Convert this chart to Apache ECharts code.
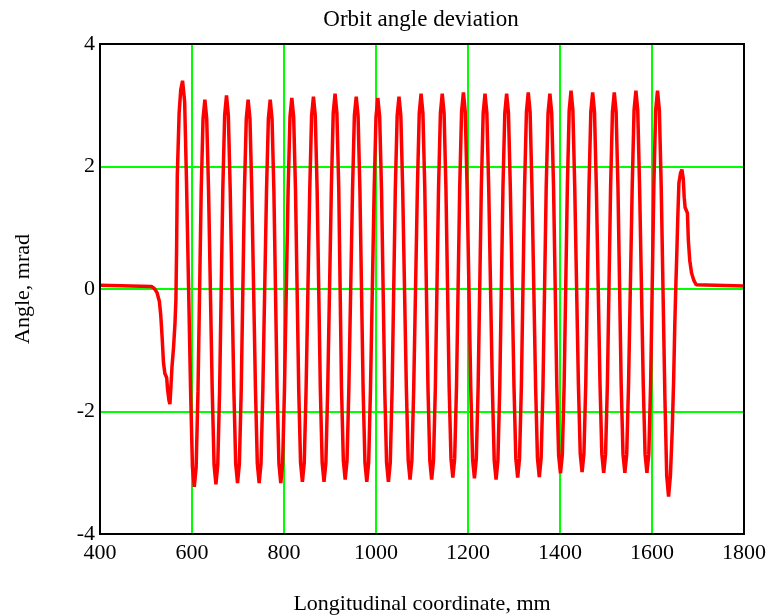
<!DOCTYPE html>
<html>
<head>
<meta charset="utf-8">
<title>Orbit angle deviation</title>
<script src="https://cdn.jsdelivr.net/npm/echarts@6/dist/echarts.min.js"></script>
<style>
  html, body { margin: 0; padding: 0; background: #fff; }
  #chart { width: 773px; height: 616px; }
</style>
</head>
<body>
<div id="chart"></div>
<script>
// Orbit angle (mrad) versus longitudinal coordinate (mm), as [coordinate, angle] pairs.

// Field-free drift and the entrance end of the magnet, up to the first full peak.
const entrySection = [
  [400, 0.06], [403, 0.04], [512, 0.04], [518, 0.01], [524, -0.06], [529, -0.20],
  [532, -0.42], [535, -0.78], [538, -1.20], [541, -1.38], [545, -1.45], [547, -1.65],
  [550, -1.82], [552, -1.88], [554, -1.62], [556.5, -1.27], [560, -0.94], [563, -0.56],
  [565, -0.18], [566.5, 0.64], [568, 1.84], [572, 2.87], [575.5, 3.25], [579.5, 3.40],
  [584, 3.06], [588, 1.77]
];

// Periodic part: one row per half period (a trough or a peak).
const periodicSection = [
  [597, -1.68], [601, -2.91], [605, -3.23], [609, -2.91], [613, -1.68],
  [620, 1.61], [624, 2.78], [628, 3.09], [632, 2.78], [636, 1.61],
  [644, -1.66], [648, -2.87], [652, -3.19], [656, -2.87], [660, -1.66],
  [667, 1.64], [671, 2.84], [675, 3.16], [679, 2.84], [683, 1.64],
  [691, -1.65], [695, -2.85], [699, -3.17], [703, -2.85], [707, -1.65],
  [714, 1.61], [718, 2.78], [722, 3.09], [726, 2.78], [730, 1.61],
  [738, -1.65], [742, -2.85], [746, -3.17], [750, -2.85], [754, -1.65],
  [762, 1.61], [766, 2.78], [770, 3.09], [774, 2.78], [778, 1.61],
  [785, -1.65], [789, -2.85], [793, -3.17], [797, -2.85], [801, -1.65],
  [809, 1.62], [813, 2.81], [817, 3.12], [821, 2.81], [825, 1.62],
  [832, -1.64], [836, -2.84], [840, -3.15], [844, -2.84], [848, -1.64],
  [856, 1.63], [860, 2.83], [864, 3.14], [868, 2.83], [872, 1.63],
  [879, -1.64], [883, -2.84], [887, -3.15], [891, -2.84], [895, -1.64],
  [903, 1.66], [907, 2.87], [911, 3.19], [915, 2.87], [919, 1.66],
  [925, -1.62], [929, -2.80], [933, -3.11], [937, -2.80], [941, -1.62],
  [949, 1.63], [953, 2.83], [957, 3.14], [961, 2.83], [965, 1.63],
  [972, -1.64], [976, -2.84], [980, -3.15], [984, -2.84], [988, -1.64],
  [996, 1.62], [1000, 2.81], [1004, 3.12], [1008, 2.81], [1012, 1.62],
  [1019, -1.64], [1023, -2.84], [1027, -3.15], [1031, -2.84], [1035, -1.64],
  [1042, 1.63], [1046, 2.83], [1050, 3.14], [1054, 2.83], [1058, 1.63],
  [1066, -1.62], [1070, -2.80], [1074, -3.11], [1078, -2.80], [1082, -1.62],
  [1090, 1.66], [1094, 2.87], [1098, 3.19], [1102, 2.87], [1106, 1.66],
  [1113, -1.62], [1117, -2.80], [1121, -3.11], [1125, -2.80], [1129, -1.62],
  [1136, 1.66], [1140, 2.87], [1144, 3.19], [1148, 2.87], [1152, 1.66],
  [1159, -1.60], [1163, -2.77], [1167, -3.08], [1171, -2.77], [1175, -1.60],
  [1182, 1.67], [1186, 2.89], [1190, 3.21], [1194, 2.89], [1198, 1.67],
  [1206, -1.61], [1210, -2.78], [1214, -3.09], [1218, -2.78], [1222, -1.61],
  [1229, 1.66], [1233, 2.87], [1237, 3.19], [1241, 2.87], [1245, 1.66],
  [1253, -1.62], [1257, -2.80], [1261, -3.11], [1265, -2.80], [1269, -1.62],
  [1276, 1.66], [1280, 2.87], [1284, 3.19], [1288, 2.87], [1292, 1.66],
  [1300, -1.60], [1304, -2.77], [1308, -3.08], [1312, -2.77], [1316, -1.60],
  [1323, 1.67], [1327, 2.89], [1331, 3.21], [1335, 2.89], [1339, 1.67],
  [1347, -1.60], [1351, -2.76], [1355, -3.07], [1359, -2.76], [1363, -1.60],
  [1370, 1.66], [1374, 2.87], [1378, 3.19], [1382, 2.87], [1386, 1.66],
  [1393, -1.57], [1397, -2.71], [1401, -3.01], [1405, -2.71], [1409, -1.57],
  [1416, 1.68], [1420, 2.92], [1424, 3.24], [1428, 2.92], [1432, 1.68],
  [1440, -1.55], [1444, -2.69], [1448, -2.99], [1452, -2.69], [1456, -1.55],
  [1463, 1.67], [1467, 2.89], [1471, 3.21], [1475, 2.89], [1479, 1.67],
  [1487, -1.56], [1491, -2.70], [1495, -3.00], [1499, -2.70], [1503, -1.56],
  [1510, 1.67], [1514, 2.89], [1518, 3.21], [1522, 2.89], [1526, 1.67],
  [1533, -1.56], [1537, -2.70], [1541, -3.00], [1545, -2.70], [1549, -1.56],
  [1557, 1.68], [1561, 2.92], [1565, 3.24], [1569, 2.92], [1573, 1.68],
  [1581, -1.56], [1585, -2.70], [1589, -3.00], [1593, -2.70], [1597, -1.56],
  [1604, 1.68], [1608, 2.92], [1612, 3.24], [1616, 2.92], [1620, 1.68],
  [1628, -1.76], [1632, -3.05], [1636, -3.39], [1640, -3.05]
];

// Exit end of the magnet and the field-free drift after it.
const exitSection = [
  [1644, -2.30], [1647, -1.50], [1649.5, -0.60], [1652, 0.10], [1654, 0.60],
  [1656, 1.15], [1658.5, 1.73], [1662, 1.89], [1665, 1.95], [1668, 1.80],
  [1670, 1.50], [1672, 1.33], [1677, 1.24], [1679, 0.80], [1682, 0.47],
  [1686, 0.26], [1691, 0.14], [1696, 0.07], [1700, 0.05], [1800, 0.05]
];

const xTicks = { min: 400, max: 1800, step: 200 };
const yTicks = { min: -4, max: 4, step: 2 };

const orbitAngle = entrySection.concat(periodicSection, exitSection);

const serif = "'Liberation Serif', 'Times New Roman', serif";
const plainNumber = v => String(v);
const chart = echarts.init(document.getElementById('chart'), null, { renderer: 'canvas' });

chart.setOption({
  animation: false,
  backgroundColor: '#ffffff',
  title: {
    text: 'Orbit angle deviation',
    left: 416,
    top: 3,
    textAlign: 'center',
    textStyle: { fontFamily: serif, fontWeight: 'normal', fontSize: 23, color: '#000' }
  },
  grid: {
    left: 100, right: 29, top: 44, bottom: 82,
    containLabel: false,
    outerBoundsMode: 'none',
    show: true, borderColor: '#000', borderWidth: 2, z: 10
  },
  xAxis: {
    type: 'value',
    min: xTicks.min, max: xTicks.max, interval: xTicks.step,
    name: 'Longitudinal coordinate, mm',
    nameLocation: 'middle',
    nameGap: 59,
    nameTextStyle: { fontFamily: serif, fontSize: 22, color: '#000' },
    axisLine: { show: false },
    axisTick: { show: false },
    axisLabel: { fontFamily: serif, fontSize: 22, color: '#000', margin: 8, formatter: plainNumber },
    splitLine: { show: true, lineStyle: { color: '#00ff00', width: 2 } }
  },
  yAxis: {
    type: 'value',
    min: yTicks.min, max: yTicks.max, interval: yTicks.step,
    name: 'Angle, mrad',
    nameLocation: 'middle',
    nameGap: 66,
    nameTextStyle: { fontFamily: serif, fontSize: 22, color: '#000' },
    axisLine: { show: false },
    axisTick: { show: false },
    axisLabel: { fontFamily: serif, fontSize: 22, color: '#000', margin: 5, formatter: plainNumber },
    splitLine: { show: true, lineStyle: { color: '#00ff00', width: 2 } }
  },
  series: [{
    type: 'line',
    data: orbitAngle,
    showSymbol: false,
    smooth: false,
    lineStyle: { color: '#ff0000', width: 3.5 },
    z: 3
  }]
});
</script>
</body>
</html>
